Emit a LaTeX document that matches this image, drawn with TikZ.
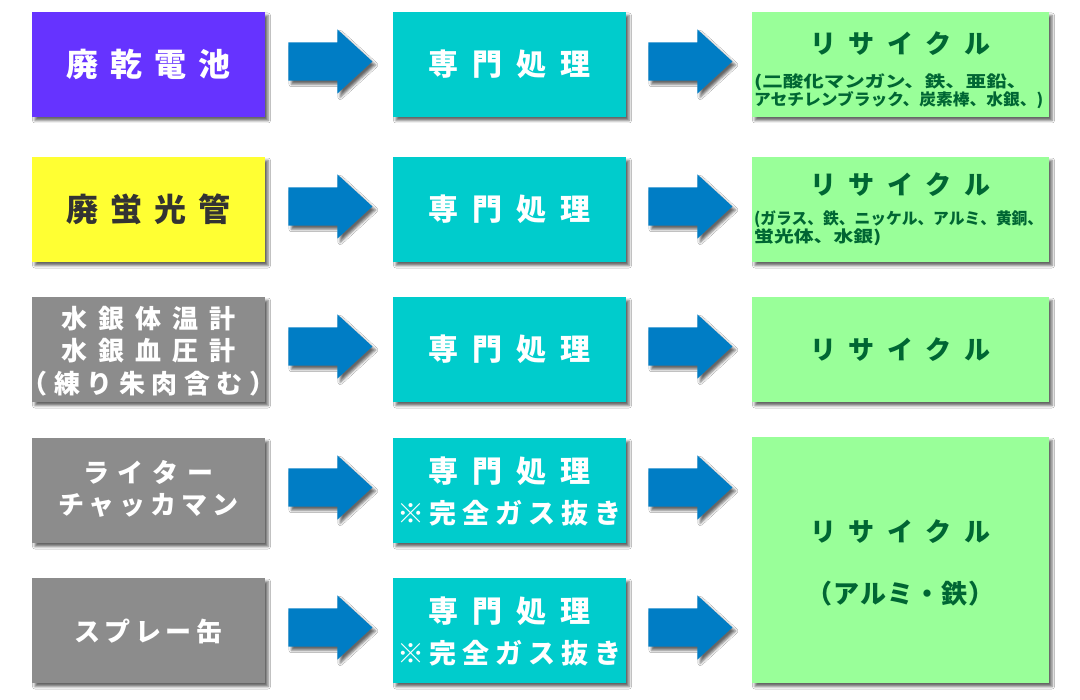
\documentclass[tikz,border=0pt]{standalone}
\usepackage{fontspec}
\setmainfont{Noto Sans CJK JP}
\usetikzlibrary{calc,shapes.arrows,shadows.blur}
\definecolor{cpurple}{HTML}{6633FF}
\definecolor{cyellow}{HTML}{FFFF33}
\definecolor{cgray}{HTML}{8C8C8C}
\definecolor{cteal}{HTML}{00CCCC}
\definecolor{cgreen}{HTML}{99FF99}
\definecolor{cblue}{HTML}{007DC5}
\definecolor{cdgreen}{HTML}{006633}
\definecolor{cdark}{HTML}{333333}
\makeatletter
\newcommand\spaced[2]{\def\spc@gap{#1}\spc@first#2\@nil}
\def\spc@first#1{#1\spc@loop}
\def\spc@loop#1{\ifx#1\@nil\else\kern\spc@gap\relax#1\expandafter\spc@loop\fi}
\makeatother
\tikzset{
  shd/.style={blur shadow={shadow xshift=3pt,shadow yshift=-3.5pt,shadow blur radius=2.5pt,shadow opacity=60}},
  boxbase/.style={shd, inner sep=0pt, align=center},
  lbox/.style={boxbase, minimum width=233pt, minimum height=105pt, text=white},
  mbox/.style={boxbase, fill=cteal, minimum width=233pt, minimum height=105pt, text=white},
  rbox/.style={boxbase, fill=cgreen, minimum width=297pt, minimum height=105pt, text=cdgreen},
  bigf/.style={font=\fontsize{32}{36}\selectfont\bfseries},
  midf/.style={font=\fontsize{30}{34}\selectfont\bfseries},
  smlf/.style={font=\fontsize{26}{32.5}\selectfont\bfseries, text=white, inner sep=0pt, align=center},
  recf/.style={font=\fontsize{26}{30}\selectfont\bfseries, text=cdgreen, inner sep=0pt},
  tinyf/.style={font=\fontsize{16}{16.5}\selectfont\bfseries, text=cdgreen, inner sep=0pt, align=left, anchor=west},
  barrow/.style={single arrow, fill=cblue, draw=none, inner sep=0pt, text height=19pt, text depth=19pt,
     minimum height=84pt, minimum width=64pt, single arrow head extend=13pt, single arrow tip angle=85, anchor=tail, shd},
}
\begin{document}
\begin{tikzpicture}[x=1pt,y=-1pt]
\useasboundingbox (0,0) rectangle (1080,700);
\fill[white] (0,0) rectangle (1080,700);
% left column
\node[lbox, fill=cpurple, bigf] (l1) at (148.5,64.5) {\spaced{12pt}{廃乾電池}};
\node[lbox, fill=cyellow, bigf, text=cdark] (l2) at (148.5,209.5) {\spaced{12pt}{廃蛍光管}};
\node[lbox, fill=cgray] (l3) at (148.5,349.5) {};
\node[smlf] (l3t) at (148.5,351) {\spaced{11pt}{水銀体温計}\\\spaced{11pt}{水銀血圧計}\\\spaced{6.5pt}{（練り朱肉含む）}};
\node[lbox, fill=cgray] (l4) at (148.5,490.5) {};
\node[smlf] (l4t) at (148.5,489) {\spaced{9pt}{ライター}\\\spaced{5pt}{チャッカマン}};
\node[lbox, fill=cgray] (l5) at (148.5,630.5) {};
\node[smlf] (l5t) at (148.5,631) {\spaced{4.5pt}{スプレー缶}};
% middle column
\node[mbox, midf] (m1) at (509.5,64.5) {\spaced{14pt}{専門処理}};
\node[mbox, midf] (m2) at (509.5,209.5) {\spaced{14pt}{専門処理}};
\node[mbox, midf] (m3) at (509.5,349.5) {\spaced{14pt}{専門処理}};
\node[mbox] (m4) at (509.5,490.5) {};
\node[midf, text=white, inner sep=0pt] (m4t) at (509.5,471) {\spaced{14pt}{専門処理}};
\node[font=\fontsize{27}{30}\selectfont\bfseries, text=white, inner sep=0pt] (m4s) at (509.5,513) {\spaced{6pt}{※完全ガス抜き}};
\node[mbox] (m5) at (509.5,630.5) {};
\node[midf, text=white, inner sep=0pt] (m5t) at (509.5,611) {\spaced{14pt}{専門処理}};
\node[font=\fontsize{27}{30}\selectfont\bfseries, text=white, inner sep=0pt] (m5s) at (509.5,653) {\spaced{6pt}{※完全ガス抜き}};
% right column
\node[rbox] (r1) at (900.5,64.5) {};
\node[recf] (r1t) at (900.5,44) {\spaced{12.5pt}{リサイクル}};
\node[tinyf] (r1s) at (754,91.5) {\resizebox{273pt}{\height}{(二酸化マンガン、鉄、亜鉛、}\\\resizebox{289pt}{\height}{アセチレンブラック、炭素棒、水銀、)}};
\node[rbox] (r2) at (900.5,209.5) {};
\node[recf] (r2t) at (900.5,185) {\spaced{12.5pt}{リサイクル}};
\node[tinyf] (r2s) at (754,228) {\resizebox{289pt}{\height}{(ガラス、鉄、ニッケル、アルミ、黄銅、}\\\resizebox{127pt}{\height}{蛍光体、水銀)}};
\node[rbox] (r3) at (900.5,349.5) {};
\node[recf] (r3t) at (900.5,349.5) {\spaced{12.5pt}{リサイクル}};
\node[rbox, minimum height=246pt] (r4) at (900.5,560) {};
\node[recf] (r4t) at (900.5,532) {\spaced{12.5pt}{リサイクル}};
\node[recf] (r4s) at (900.5,594) {\spaced{1pt}{（アルミ・鉄）}};
% arrows
\node[barrow] (a11) at ($(l1.east)+(23,-3)$) {};
\node[barrow] (a12) at ($(m1.east)+(22,-3)$) {};
\node[barrow] (a21) at ($(l2.east)+(23,-3)$) {};
\node[barrow] (a22) at ($(m2.east)+(22,-3)$) {};
\node[barrow] (a31) at ($(l3.east)+(23,-3)$) {};
\node[barrow] (a32) at ($(m3.east)+(22,-3)$) {};
\node[barrow] (a41) at ($(l4.east)+(23,-3)$) {};
\node[barrow] (a42) at ($(m4.east)+(22,-3)$) {};
\node[barrow] (a51) at ($(l5.east)+(23,-3)$) {};
\node[barrow] (a52) at ($(m5.east)+(22,-3)$) {};
\end{tikzpicture}
\end{document}
